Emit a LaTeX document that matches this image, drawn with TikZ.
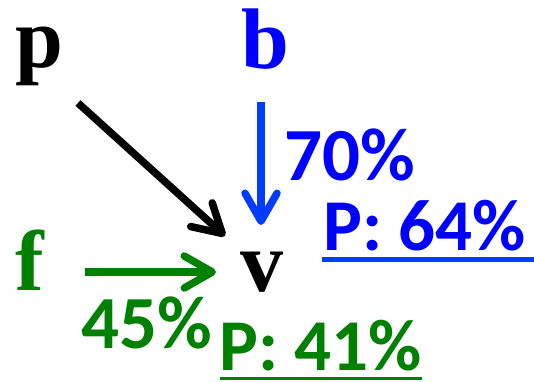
\documentclass[tikz,border=0pt]{standalone}
\usepackage{fontspec}
\setmainfont{Liberation Serif}
\newfontfamily\calib{Carlito}
\usetikzlibrary{arrows.meta}
\definecolor{tgreen}{RGB}{0,128,0}
\definecolor{tblue}{RGB}{0,0,255}
\definecolor{ablue}{RGB}{0,60,255}
\tikzset{
  letter/.style={inner sep=0pt, anchor=base west, font=\fontsize{86}{86}\selectfont\bfseries},
  pct/.style={inner sep=0pt, text depth=0pt, anchor=base west, font=\fontsize{75}{75}\selectfont\calib\bfseries},
  pval/.style={inner sep=0pt, text depth=0pt, anchor=base west, font=\fontsize{73}{73}\selectfont\calib\bfseries},
  conn/.style={line width=7.5pt, -{Straight Barb[length=28pt,width=32pt,line cap=round,line join=round]}},
}
\begin{document}
\begin{tikzpicture}[x=1pt,y=-1pt]
\useasboundingbox (0,0) rectangle (534,381);
\node[letter] (p) at (15,67) {p};
\node[letter,text=tblue] (b) at (241,68) {b};
\node[letter,text=tgreen] (f) at (15,290) {f};
\node[letter] (v) at (240,291) {v};
\coordinate (pa) at (78,103);
\coordinate (pt) at (225,236);
\coordinate (ba) at (261,102);
\coordinate (bt) at (261,225);
\coordinate (fa) at (85,272);
\coordinate (ft) at (216,272);
\draw[conn] (pa) -- (pt);
\draw[conn,ablue] (ba) -- (bt);
\draw[conn,tgreen] (fa) -- (ft);
\node[pct,text=tblue] (p70) at (284,180) {70\%};
\node[pct,text=tgreen] (p45) at (81,348) {45\%};
\node[pval,text=tblue] (p64) at (323,250) {P: 64\%};
\node[pval,text=tgreen] (p41) at (219,370) {P: 41\%};
\draw[ablue,line width=5pt] (322,259) -- (534,259);
\draw[tgreen,line width=3pt] (220,378.5) -- (422,378.5);
\end{tikzpicture}
\end{document}
